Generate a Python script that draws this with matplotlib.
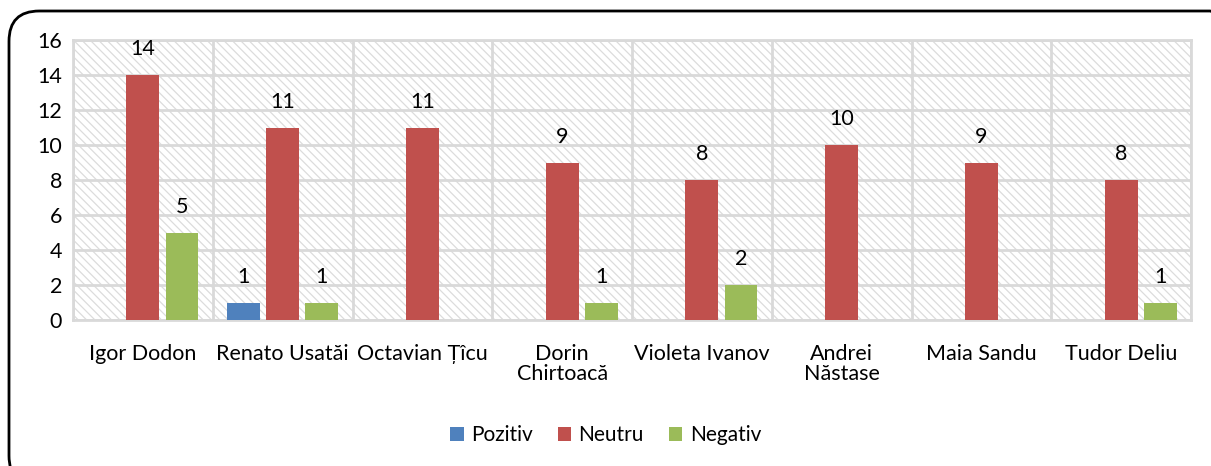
import matplotlib.pyplot as plt
import numpy as np
from matplotlib.patches import FancyBboxPatch

plt.rcParams['font.family'] = ['Lato', 'DejaVu Sans']
plt.rcParams['hatch.color'] = '#dcdcdc'
plt.rcParams['hatch.linewidth'] = 0.9

# data
candidates = ['Igor Dodon', 'Renato Usatăi', 'Octavian Țîcu', 'Dorin\nChirtoacă',
              'Violeta Ivanov', 'Andrei\nNăstase', 'Maia Sandu', 'Tudor Deliu']
pozitiv = [0, 1, 0, 0, 0, 0, 0, 0]
neutru = [14, 11, 11, 9, 8, 10, 9, 8]
negativ = [5, 1, 0, 1, 2, 0, 0, 1]

series = [('Pozitiv', pozitiv, '#4f81bd'),
          ('Neutru', neutru, '#c0504d'),
          ('Negativ', negativ, '#9bbb59')]

W, H = 1211, 466
fs = 15.5
fig = plt.figure(figsize=(W / 100, H / 100), dpi=100)
ax = fig.add_axes([73 / W, 1 - 320 / H, (1191 - 73) / W, (320 - 40) / H])

# rounded outer border
border = FancyBboxPatch((9 / W, -20 / H), (1240 - 9) / W, (455 + 20) / H,
                        boxstyle='round,pad=0,rounding_size=0.025',
                        transform=fig.transFigure, fill=False,
                        edgecolor='black', linewidth=2, clip_on=False,
                        mutation_aspect=W / H)
fig.patches.append(border)

# hatched background
ax.set_facecolor('white')
ax.add_patch(plt.Rectangle((0, 0), 1, 1, transform=ax.transAxes, facecolor='white',
                           hatch='\\\\\\\\', edgecolor='#dcdcdc', linewidth=0, zorder=0))

x = np.arange(len(candidates))
bw = 0.236
step = 0.28
for i, (name, vals, col) in enumerate(series):
    pos = x + (i - 1) * step
    ax.bar(pos, vals, width=bw, color=col, label=name, zorder=3)
    for p, v in zip(pos, vals):
        if v:
            ax.text(p, v + 0.9, str(v), ha='center', va='bottom', fontsize=fs, zorder=4)

ax.set_xlim(-0.5, len(candidates) - 0.5)
ax.set_ylim(0, 16)
ax.set_yticks(range(0, 17, 2))
ax.set_xticks(x)
ax.set_xticklabels(candidates, fontsize=fs, linespacing=1.05)
ax.tick_params(axis='y', labelsize=fs, length=0, pad=8)
ax.tick_params(axis='x', length=0, pad=17)

ax.set_xticks(np.arange(-0.5, len(candidates)), minor=True)
ax.tick_params(axis='x', which='minor', length=0)
ax.grid(axis='y', color='#d9d9d9', linewidth=2, zorder=1)
ax.grid(axis='x', which='minor', color='#d9d9d9', linewidth=2, zorder=1)
ax.grid(axis='x', which='major', visible=False)
for s in ax.spines.values():
    s.set_color('#d9d9d9')
    s.set_linewidth(2)
ax.set_axisbelow(True)

fig.legend(loc='center', bbox_to_anchor=(0.5, 1 - 435 / H), ncol=3, frameon=False,
           fontsize=15, handlelength=0.65, handleheight=0.65, handletextpad=0.35,
           columnspacing=1.2)

fig.savefig('out.png', dpi=100)
